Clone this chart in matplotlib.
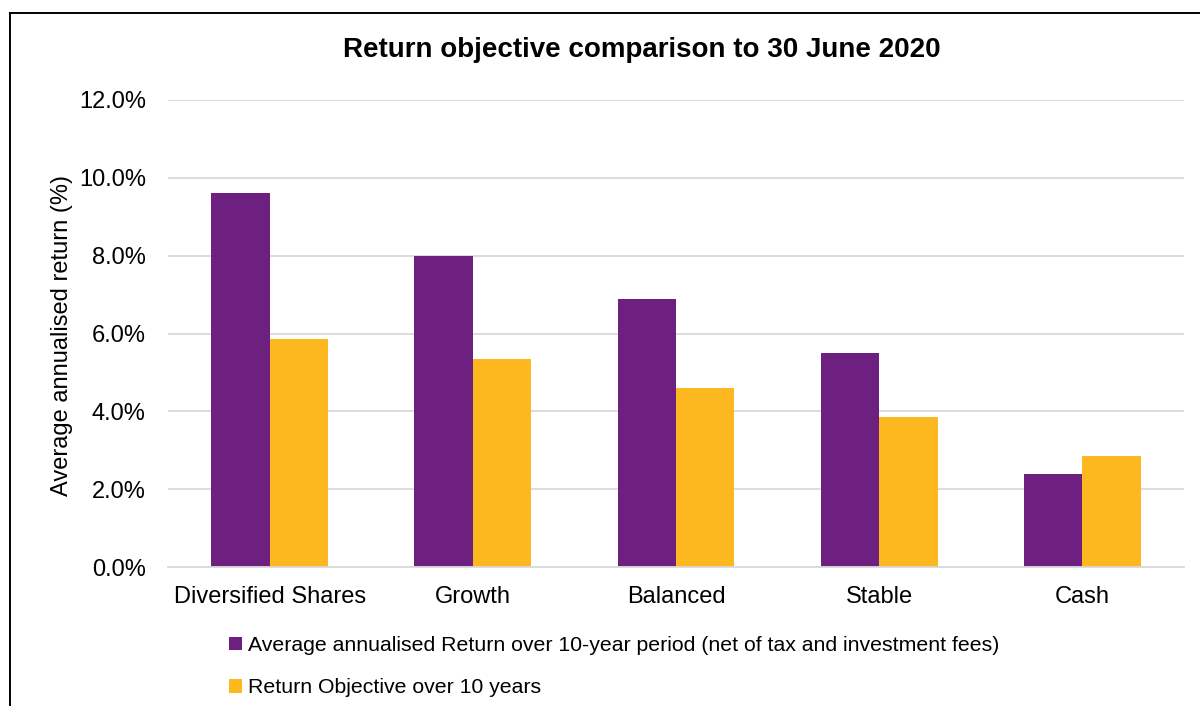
import numpy as np
import matplotlib.pyplot as plt
from matplotlib.lines import Line2D

plt.rcParams['font.family'] = ['Liberation Sans', 'DejaVu Sans']

# Data
categories = ['Diversified Shares', 'Growth', 'Balanced', 'Stable', 'Cash']
actual_return = [9.62, 7.98, 6.88, 5.50, 2.40]
objective_return = [5.85, 5.35, 4.60, 3.85, 2.85]
series_names = ['Average annualised Return over 10-year period (net of tax and investment fees)',
                'Return Objective over 10 years']

purple = '#6E2081'
orange = '#FDB71F'

fig = plt.figure(figsize=(12, 7.06), dpi=100)
ax = fig.add_axes([168 / 1200, 1 - 567 / 706, (1184 - 168) / 1200, (567 - 100) / 706])

ind = np.arange(len(categories))
width = 0.287

ax.bar(ind - width / 2, actual_return, width, color=purple, label=series_names[0])
ax.bar(ind + width / 2, objective_return, width, color=orange, label=series_names[1])

ax.set_xlim(-0.5, len(categories) - 0.5)
ax.set_ylim(0, 12)
ax.set_yticks(np.arange(0, 12.1, 2))
ax.set_yticklabels(['%.1f%%' % v for v in np.arange(0, 12.1, 2)])
ax.set_xticks(ind)
ax.set_xticklabels(categories)
ax.tick_params(axis='both', length=0, labelsize=17, colors='#000000')
ax.tick_params(axis='y', pad=16)
ax.tick_params(axis='x', pad=14)

ax.grid(axis='y', color='#D9D9D9', linewidth=1.3)
ax.set_axisbelow(True)
for s in ['top', 'right', 'left']:
    ax.spines[s].set_visible(False)
ax.spines['bottom'].set_color('#D9D9D9')
ax.spines['bottom'].set_linewidth(1.3)

fig.text(62 / 1200, 1 - 335 / 706, 'Average annualised return (%)', rotation=90,
         ha='center', va='center', fontsize=17)
fig.text(642 / 1200, 1 - 50 / 706, 'Return objective comparison to 30 June 2020',
         ha='center', va='center', fontsize=20, fontweight='bold')

fig.legend(loc='upper left', bbox_to_anchor=(229 / 1200, 1 - 636 / 706), frameon=False,
           fontsize=15.3, handlelength=0.6, handleheight=0.6, handletextpad=0.3,
           labelspacing=1.1, borderaxespad=0, borderpad=0)

# outer border (top and left)
fig.add_artist(Line2D([10 / 1200, 1], [1 - 13 / 706, 1 - 13 / 706], color='black',
                      linewidth=1.4, transform=fig.transFigure))
fig.add_artist(Line2D([10 / 1200, 10 / 1200], [0, 1 - 13 / 706], color='black',
                      linewidth=1.4, transform=fig.transFigure))

fig.savefig('out.png', dpi=100)
